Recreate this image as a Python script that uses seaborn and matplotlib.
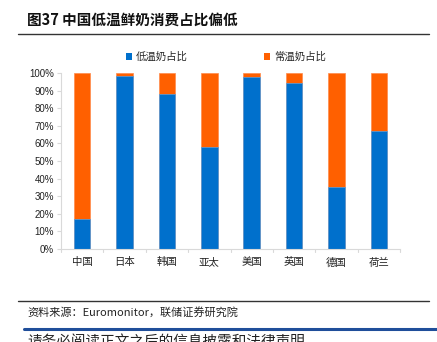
import matplotlib
matplotlib.use("Agg")
import matplotlib.pyplot as plt
import seaborn as sns
import pandas as pd
from matplotlib.lines import Line2D
from matplotlib.patches import Patch

categories = ["中国", "日本", "韩国", "亚太", "美国", "英国", "德国", "荷兰"]
low_temp = [17, 98.5, 88, 58, 97.5, 94.5, 35, 67]
normal_temp = [83, 1.5, 12, 42, 2.5, 5.5, 65, 33]
y_ticks = [0, 10, 20, 30, 40, 50, 60, 70, 80, 90, 100]
series_names = ["低温奶占比", "常温奶占比"]

title = "图37 中国低温鲜奶消费占比偏低"
source = "资料来源：Euromonitor，联储证券研究院"
footer = "请务必阅读正文之后的信息披露和法律声明"

BLUE = "#0070CC"
ORANGE = "#FF6000"

sns.set_theme(style="white")
plt.rcParams["font.family"] = ["Noto Sans CJK SC", "DejaVu Sans"]

W, H = 437, 342
fig = plt.figure(figsize=(W / 100, H / 100), dpi=100)

def fx(x):
    return x / W

def fy(y):
    return 1 - y / H

ax = fig.add_axes([fx(61), fy(249), fx(400) - fx(61), fy(73) - fy(249)])

df = pd.DataFrame({"cat": categories, "low": low_temp, "normal": normal_temp})
df["total"] = df["low"] + df["normal"]

sns.barplot(data=df, x="cat", y="total", color=ORANGE, saturation=1, width=0.39,
            edgecolor="#FF8A4A", linewidth=0.5, ax=ax)
sns.barplot(data=df, x="cat", y="low", color=BLUE, saturation=1, width=0.39,
            edgecolor="#5AA0E0", linewidth=0.5, ax=ax)

ax.set_xlim(-0.5, len(categories) - 0.5)
ax.set_ylim(0, 100)
ax.set_yticks(y_ticks)
ax.set_yticklabels([f"{v}%" for v in y_ticks], family=["Liberation Sans", "DejaVu Sans"],
                   fontsize=7, color="#222222")
ax.set_xticks(range(len(categories)))
ax.set_xticklabels(categories, fontsize=7.5, color="#222222")
ax.set_xlabel("")
ax.set_ylabel("")

for s in ["top", "right"]:
    ax.spines[s].set_visible(False)
for s in ["left", "bottom"]:
    ax.spines[s].set_visible(True)
    ax.spines[s].set_color("#D9D9D9")
    ax.spines[s].set_linewidth(0.8)

ax.tick_params(axis="y", length=3, width=0.8, color="#D9D9D9", pad=2, left=True)
ax.tick_params(axis="x", length=0, pad=6)
# category boundary ticks on x axis
for b in range(len(categories) + 1):
    ax.plot([b - 0.5, b - 0.5], [0, -1.8], color="#D9D9D9", lw=0.8, clip_on=False)

handles = [Patch(facecolor=BLUE, edgecolor="none"), Patch(facecolor=ORANGE, edgecolor="none")]
fig.legend(handles, series_names, loc="center left", bbox_to_anchor=(fx(126), fy(57)),
           ncol=2, frameon=False, fontsize=7.5, handlelength=0.55, handleheight=0.55,
           handletextpad=0.4, columnspacing=7.3, borderaxespad=0, borderpad=0)

fig.text(fx(27), fy(20), title, fontsize=10.5, fontweight="bold", va="center", ha="left",
         color="#111111")
fig.add_artist(Line2D([fx(18), fx(429)], [fy(34), fy(34)], color="#333333", lw=1.0))
fig.add_artist(Line2D([fx(18), fx(429)], [fy(301), fy(301)], color="#333333", lw=1.0))
fig.text(fx(27), fy(312), source, fontsize=8, va="center", ha="left", color="#222222")
fig.add_artist(Line2D([fx(24), fx(437)], [fy(328.5), fy(328.5)], color="#1F4E9A", lw=2.2))
fig.text(fx(27), fy(334.5), footer, fontsize=10.5, va="top", ha="left", color="#222222")

fig.savefig("out.png", dpi=100)
